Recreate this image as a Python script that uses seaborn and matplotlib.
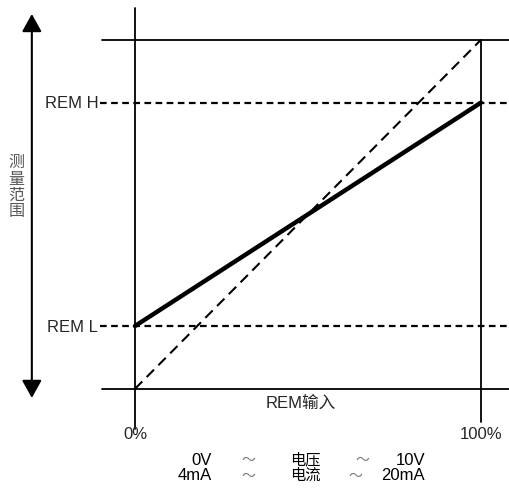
import numpy as np
import pandas as pd
import matplotlib
matplotlib.use("Agg")
import matplotlib.pyplot as plt
import seaborn as sns
from matplotlib.patches import FancyArrowPatch

# data
pct = [0, 100]
rem_output = [18, 82]     # REM L -> REM H
full_range = [0, 100]
rem_levels = [18, 82]
level_labels = ['REM L', 'REM H']
pct_labels = ['0%', '100%']
voltage_row = ['0V', '～', '电压', '～', '10V']
current_row = ['4mA', '～', '电流', '～', '20mA']

sns.set_style('white')
plt.rcParams['font.family'] = ['Liberation Sans', 'Noto Sans CJK SC', 'DejaVu Sans']

fig = plt.figure(figsize=(5.10, 4.89), dpi=100)
ax = fig.add_axes([0, 0, 1, 1])

# frame lines
ax.plot([-9.6, 108.4], [100, 100], color='black', lw=1.3)
ax.plot([-9.6, 108.4], [0, 0], color='black', lw=1.3)
ax.plot([0, 0], [-11.5, 109.0], color='black', lw=1.3)
ax.plot([100, 100], [-9.5, 100], color='black', lw=1.3)

# REM L / REM H levels
for lvl, lab in zip(rem_levels, level_labels):
    ax.plot([-10.0, 108.4], [lvl, lvl], color='black', lw=1.6, dashes=(3, 2))
    ax.text(-10.6, lvl, lab, ha='right', va='center', fontsize=12)

df = pd.DataFrame({'pct': pct, 'out': rem_output, 'full': full_range})
sns.lineplot(data=df, x='pct', y='full', ax=ax, color='black', lw=1.5,
             linestyle=(0, (5, 3)))
sns.lineplot(data=df, x='pct', y='out', ax=ax, color='black', lw=3.2)
ax.set_xlim(-39.0, 108.4)
ax.set_ylim(-28.4, 111.7)
ax.axis('off')

# measuring range arrow
arr = FancyArrowPatch((-29.8, -2.6), (-29.8, 107.4),
                      arrowstyle='<|-|>,head_length=5.4,head_width=3.0',
                      color='black', lw=1.5, mutation_scale=2,
                      shrinkA=0, shrinkB=0)
ax.add_patch(arr)
ax.text(-34.3, 58.0, '测\n量\n范\n围', ha='center', va='center', fontsize=11.5,
        color='#555555', linespacing=0.95, family=['Noto Sans CJK SC', 'DejaVu Sans'])

# x labels
for x, lab in zip(pct, pct_labels):
    ax.text(x, -12.9, lab, ha='center', va='center', fontsize=12)
ax.text(47.9, -3.7, 'REM输入', ha='center', va='center', fontsize=12)

col_x = [22.3, 32.7, 49.1, 65.6, 83.8]
col_x2 = [22.3, 32.7, 49.1, 63.6, 83.8]
for row, y, xs in [(voltage_row, -20.1, col_x), (current_row, -24.6, col_x2)]:
    for i, (t, x) in enumerate(zip(row, xs)):
        ha = 'right' if i in (0, 4) else 'center'
        color = '#777777' if t == '～' else 'black'
        fs = 10 if t == '～' else (11 if i == 2 else 12)
        ax.text(x, y, t, ha=ha, va='center', fontsize=fs, color=color)

fig.savefig('out.png', dpi=100)
